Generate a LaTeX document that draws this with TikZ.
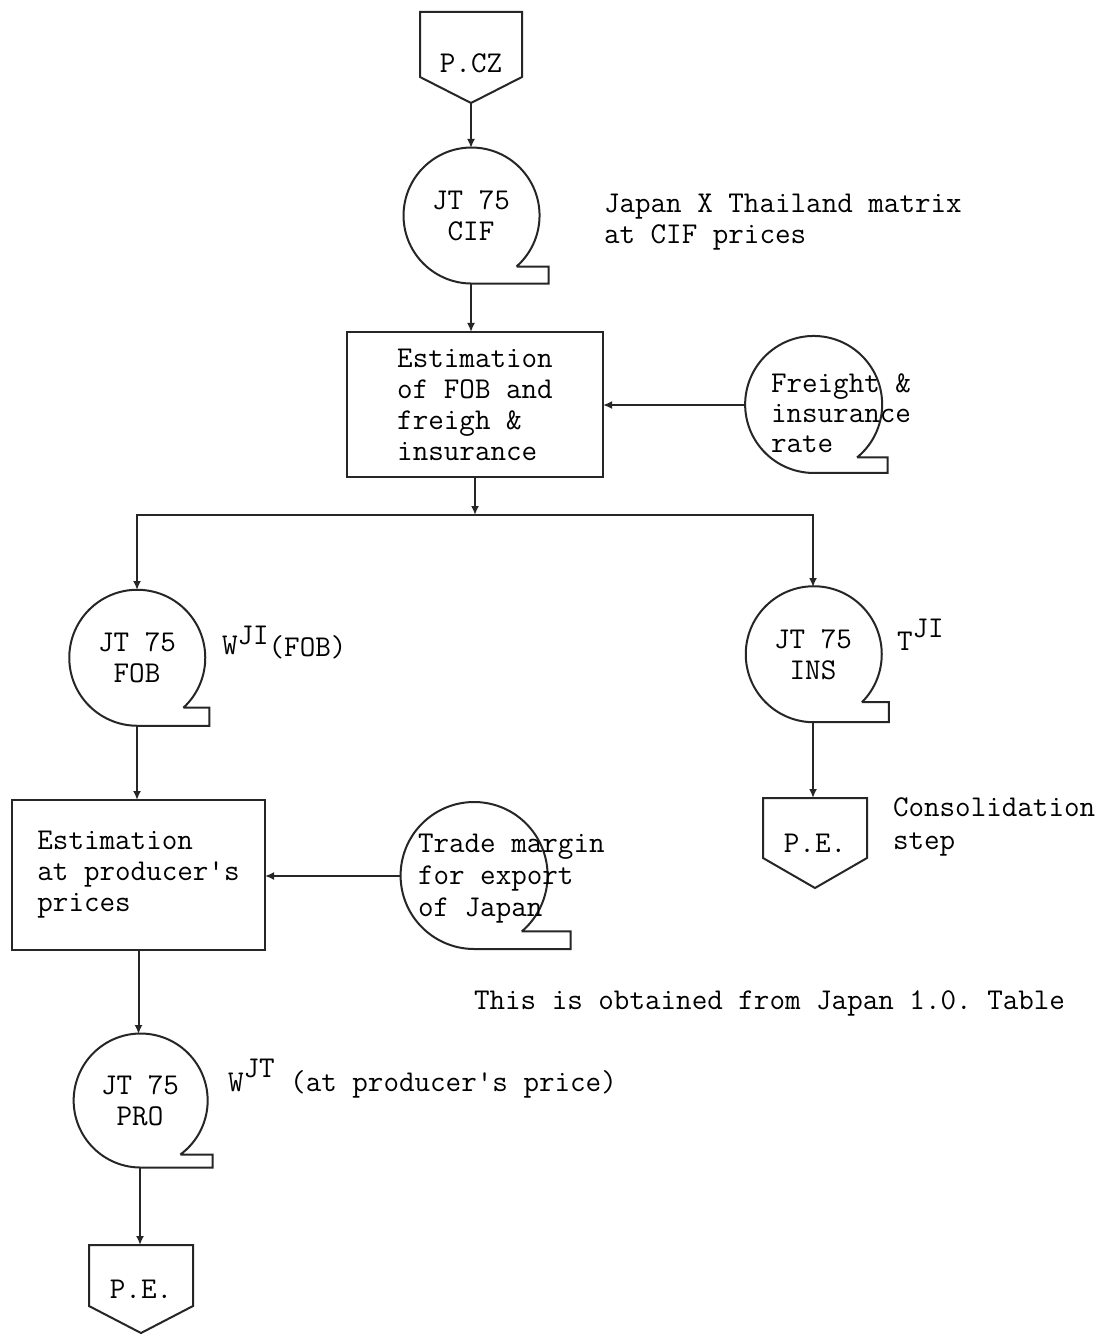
\documentclass[tikz,border=0pt]{standalone}
\usepackage{fontspec}
\setmonofont{Latin Modern Mono}
\usetikzlibrary{arrows.meta,calc}
\newcommand\tapeline[4]{\draw[ln] (#1.#4) arc[start angle=#4, end angle=270, radius=#2] -- ++(#3,0pt) |- (#1.#4);}
\newcommand\pentaline[2]{\draw[ln] (#1.north west) -- (#1.north east) -- ($(#1.south east)+(0pt,#2)$) -- (#1.south) -- ($(#1.south west)+(0pt,#2)$) -- cycle;}
\begin{document}
\begin{tikzpicture}[x=0.5pt,y=0.5pt,
  every node/.style={font=\ttfamily\fontsize{15.1}{15.5}\selectfont, text=black},
  ln/.style={line width=1pt, draw=black!85},
  arr/.style={ln,-{Latex[length=4.5pt,width=4pt]}},
  tape/.style={circle, inner sep=0pt, outer sep=0pt, align=center, minimum size=#1},
  procbox/.style={rectangle, ln, draw, inner sep=0pt, outer sep=0pt, align=left},
  penta/.style={rectangle, inner sep=0pt, outer sep=0pt, align=center},
  txt/.style={align=left, inner sep=0pt, outer sep=0pt},
]
\fill[white] (0,0) rectangle (1109,-1336);
\useasboundingbox (0,0) rectangle (1109,-1336);

% pentagons (off-page connectors)
\node[penta, minimum width=51pt, minimum height=45.5pt, text height=14.7pt, text depth=0pt] (pcz) at (471,-57.5) {P.CZ};
\pentaline{pcz}{13pt}
\node[penta, minimum width=52pt, minimum height=45pt] (pe1) at (815,-843) {P.E.};
\pentaline{pe1}{15pt}
\node[penta, minimum width=52pt, minimum height=44pt] (pe2) at (141,-1289) {P.E.};
\pentaline{pe2}{13.5pt}

% tapes
\node[tape=68pt] (cif) at (471,-216) {JT 75\\CIF};
\tapeline{cif}{34pt}{38.5pt}{-48.6}
\node[tape=68.5pt] (frt) at (813,-405) {};
\tapeline{frt}{34.25pt}{37pt}{-50.7}
\node[tape=68pt] (fob) at (137,-658) {JT 75\\FOB};
\tapeline{fob}{34pt}{36pt}{-47.3}
\node[tape=68pt] (ins) at (813,-655) {JT 75\\INS};
\tapeline{ins}{34pt}{37.5pt}{-44.9}
\node[tape=73.5pt] (trd) at (473.5,-876) {};
\tapeline{trd}{36.75pt}{48.25pt}{-49.6}
\node[tape=67pt] (pro) at (140,-1101) {JT 75\\PRO};
\tapeline{pro}{33.5pt}{36pt}{-53.7}

% process boxes
\node[procbox, minimum width=128pt, minimum height=72.5pt] (est1) at (475,-404.5) {Estimation\\of FOB and\\freigh \&\\insurance};
\node[procbox, minimum width=126.5pt, minimum height=75pt] (est2) at (138.5,-875) {Estimation\\at producer's\\prices};

% texts beside the symbols
\node[txt, anchor=west, font=\ttfamily\fontsize{15.1}{15}\selectfont] (frtlbl) at (771,-413) {Freight \&\\insurance\\rate};
\node[txt, anchor=west, font=\ttfamily\fontsize{15.1}{16}\selectfont] (trdlbl) at (418,-879) {Trade margin\\for export\\of Japan};
\node[txt, anchor=west] (ciflbl) at (604,-222) {Japan X Thailand matrix\\at CIF prices};
\node[txt, anchor=base west] (foblbl) at (222,-654) {W\raisebox{5pt}{JI}\raisebox{-1pt}{(FOB)}};
\node[txt, anchor=base west] (inslbl) at (897,-650) {T\raisebox{6.5pt}{JI}};
\node[txt, anchor=west, font=\ttfamily\fontsize{15.1}{16.5}\selectfont] (pe1lbl) at (893,-827) {Consolidation\\step};
\node[txt, anchor=base west] (iolbl) at (474,-1009) {This is obtained from Japan 1.0. Table};
\node[txt, anchor=base west] (prolbl) at (228,-1091) {W\raisebox{7pt}{JT} (at producer's price)};

% connectors
\coordinate (j) at (475,-515);
\draw[arr] (pcz.south) -- (cif.north);
\draw[arr] (cif.south) -- (cif.south |- est1.north);
\draw[arr] (frt.west) -- (frt.west -| est1.east);
\draw[arr] (est1.south) -- (j);
\draw[arr] (j) -| (fob.north);
\draw[arr] (j) -| (ins.north);
\draw[arr] (fob.south) -- (fob.south |- est2.north);
\draw[arr] (trd.west) -- (trd.west -| est2.east);
\draw[arr] (est2.south) -- (est2.south |- pro.north);
\draw[arr] (pro.south) -- (pro.south |- pe2.north);
\draw[arr] (ins.south) -- (ins.south |- pe1.north);
\end{tikzpicture}
\end{document}
